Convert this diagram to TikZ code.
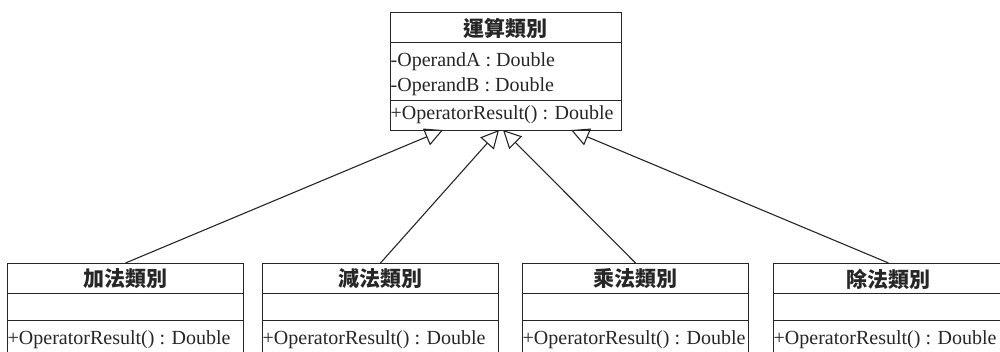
\documentclass[tikz,border=0pt]{standalone}
\usepackage{fontspec}
\setmainfont{Liberation Serif}
\newfontfamily\cjk{Noto Sans CJK TC}
\usetikzlibrary{arrows.meta}
\definecolor{ink}{gray}{0.15}
\tikzset{
  box/.style={draw=ink, line width=1pt, rectangle, inner sep=0pt, anchor=north west},
  sep/.style={draw=ink, line width=1pt},
  ttl/.style={font=\cjk\bfseries\fontsize{21}{23}\selectfont, text=ink, inner sep=0pt},
  mem/.style={font=\fontsize{20}{22}\selectfont, text=ink, inner sep=0pt, anchor=west},
  gen/.style={draw=ink, line width=1.1pt, -{Triangle[open, length=18pt, width=18pt, line width=1.1pt]}}
}
\begin{document}
\begin{tikzpicture}[x=1pt,y=-1pt]
\useasboundingbox (0,0) rectangle (1000,351);
% top class
\node[box, minimum width=231pt, minimum height=118pt] (top) at (390,12) {};
\draw[sep] (390,42) -- (621,42);
\draw[sep] (390,100) -- (621,100);
\node[ttl] (toptitle) at (505.5,28) {運算類別};
\node[mem] (opa) at (390.5,62) {-OperandA : Double};
\node[mem] (opb) at (390.5,87) {-OperandB : Double};
\node[mem] (opr) at (390.5,115) {+OperatorResult() : Double};
% bottom classes
\node[box, minimum width=236pt, minimum height=92pt] (b1) at (7,263) {};
\node[box, minimum width=236pt, minimum height=92pt] (b2) at (262,263) {};
\node[box, minimum width=226pt, minimum height=92pt] (b3) at (522,263) {};
\node[box, minimum width=230pt, minimum height=92pt] (b4) at (773,263) {};
\foreach \l/\r in {7/243, 262/498, 522/748, 773/1003}{
  \draw[sep] (\l,293) -- (\r,293);
  \draw[sep] (\l,320) -- (\r,320);
}
\node[ttl] (t1) at (125,279) {加法類別};
\node[ttl] (t2) at (380,279) {減法類別};
\node[ttl] (t3) at (635,279) {乘法類別};
\node[ttl] (t4) at (888,279) {除法類別};
\node[mem] (m1) at (7.5,340) {+OperatorResult() : Double};
\node[mem] (m2) at (262.5,340) {+OperatorResult() : Double};
\node[mem] (m3) at (522.5,340) {+OperatorResult() : Double};
\node[mem] (m4) at (773.5,340) {+OperatorResult() : Double};
% generalization connectors
\coordinate (a1) at (443,130);
\coordinate (a2) at (499,130);
\coordinate (a3) at (503,130);
\coordinate (a4) at (571,130);
\draw[gen] (b1.north) -- (a1);
\draw[gen] (b2.north) -- (a2);
\draw[gen] (b3.north) -- (a3);
\draw[gen] (b4.north) -- (a4);
\end{tikzpicture}
\end{document}
